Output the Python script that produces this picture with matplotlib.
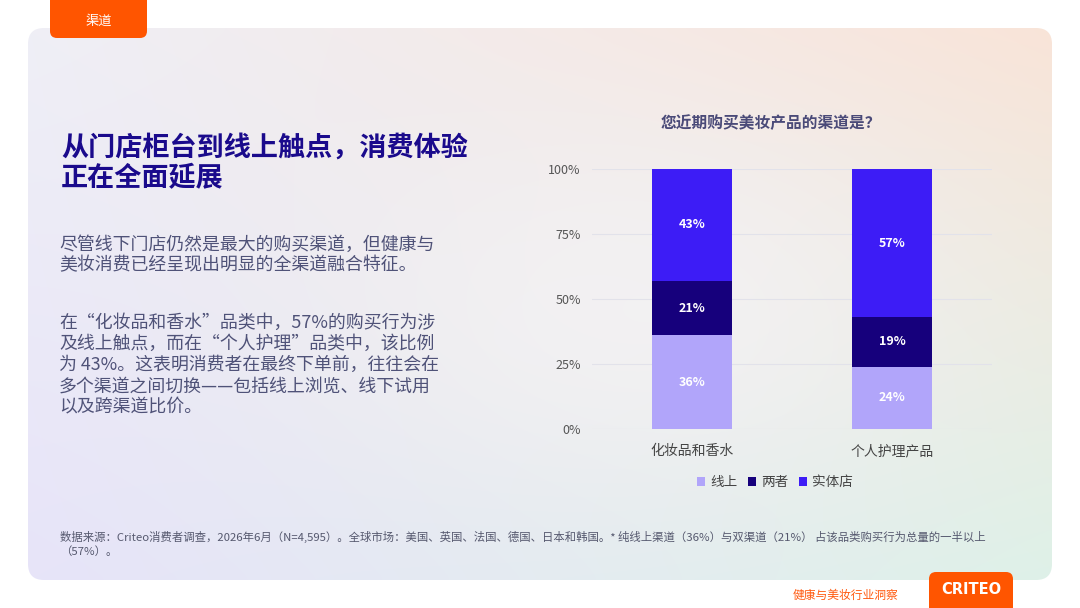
import numpy as np
import matplotlib
matplotlib.use("Agg")
import matplotlib.pyplot as plt
from matplotlib.patches import FancyBboxPatch, Patch

plt.rcParams['font.family'] = ['Noto Sans CJK SC', 'DejaVu Sans']
plt.rcParams['axes.unicode_minus'] = False

# 数据
categories = ['化妆品和香水', '个人护理产品']
series_names = ['线上', '两者', '实体店']
online = [36, 24]
both = [21, 19]
store = [43, 57]
series_colors = ['#b1a5fa', '#16007c', '#3d1cf6']
y_ticks = [0, 25, 50, 75, 100]
y_tick_labels = ['0%', '25%', '50%', '75%', '100%']

W, H = 1080, 608
fig = plt.figure(figsize=(W / 100, H / 100), dpi=100, facecolor='white')

# 背景画布（像素坐标）
bg = fig.add_axes([0, 0, 1, 1])
bg.set_xlim(0, W)
bg.set_ylim(H, 0)
bg.axis('off')

# 卡片渐变背景
def hex2rgb(h):
    h = h.lstrip('#')
    return np.array([int(h[i:i + 2], 16) / 255 for i in (0, 2, 4)])

tl, tr = hex2rgb('#efeff6'), hex2rgb('#f9e4d8')
bl, br = hex2rgb('#e7e4f9'), hex2rgb('#def1e8')
mid = hex2rgb('#f6f4f6')
gx = np.linspace(0, 1, 200)[None, :, None]
gy = np.linspace(0, 1, 120)[:, None, None]
img = (tl * (1 - gx) * (1 - gy) + tr * gx * (1 - gy)
       + bl * (1 - gx) * gy + br * gx * gy)
wmid = np.exp(-(((gx - 0.6) / 0.3) ** 2 + ((gy - 0.5) / 0.35) ** 2))
img = img * (1 - 0.7 * wmid) + mid * 0.7 * wmid
card = FancyBboxPatch((28, 28), 1024, 552, boxstyle='round,pad=0,rounding_size=16',
                      facecolor='none', edgecolor='none')
bg.add_patch(card)
im = bg.imshow(img, extent=(28, 1052, 580, 28), aspect='auto', interpolation='bicubic', zorder=0)
im.set_clip_path(card)

# 顶部橙色标签
tab = FancyBboxPatch((50, -20), 97, 58, boxstyle='round,pad=0,rounding_size=7',
                     facecolor='#ff5500', edgecolor='none', zorder=2)
bg.add_patch(tab)
bg.text(99, 21, '渠道', color='white', fontsize=9.5, ha='center', va='center', zorder=3)

# 左侧标题与正文
bg.text(61, 163, '从门店柜台到线上触点，消费体验\n正在全面延展', color='#1a0a8c',
        fontsize=19.5, fontweight='bold', ha='left', va='center', linespacing=1.15)
bg.text(59, 255, '尽管线下门店仍然是最大的购买渠道，但健康与\n美妆消费已经呈现出明显的全渠道融合特征。',
        color='#4f5278', fontsize=12.9, ha='left', va='center', linespacing=1.22)
bg.text(59, 365, '在“化妆品和香水”品类中，57%的购买行为涉\n及线上触点，而在“个人护理”品类中，该比例\n'
        '为 43%。这表明消费者在最终下单前，往往会在\n多个渠道之间切换——包括线上浏览、线下试用\n以及跨渠道比价。',
        color='#4f5278', fontsize=12.9, ha='left', va='center', linespacing=1.22)

# 脚注
bg.text(60, 544, '数据来源：Criteo消费者调查，2026年6月（N=4,595）。全球市场：美国、英国、法国、德国、日本和韩国。'
        '* 纯线上渠道（36%）与双渠道（21%） 占该品类购买行为总量的一半以上\n（57%）。',
        color='#55586e', fontsize=8.2, ha='left', va='center', linespacing=1.3)

# 右下角
bg.text(845, 595, '健康与美妆行业洞察', color='#ff5a10', fontsize=8.5, ha='center', va='center')
logo = FancyBboxPatch((929, 572), 84, 50, boxstyle='round,pad=0,rounding_size=7',
                      facecolor='#ff5500', edgecolor='none', zorder=2)
bg.add_patch(logo)
bg.text(971, 590, 'CRITEO', color='white', fontsize=10.5, fontweight='heavy',
        ha='center', va='center', zorder=3, family='DejaVu Sans')

# 图表标题
bg.text(771, 123, '您近期购买美妆产品的渠道是？', color='#4a4a78', fontsize=11.3,
        fontweight='bold', ha='center', va='center')

# 堆叠柱状图
ax = fig.add_axes([592 / W, (H - 429) / H, 400 / W, 260 / H])
ax.patch.set_alpha(0)
x = np.arange(len(categories))
bottom = np.zeros(len(categories))
for name, vals, col in zip(series_names, [online, both, store], series_colors):
    bars = ax.bar(x, vals, width=0.4, bottom=bottom, color=col, label=name, zorder=3)
    ax.bar_label(bars, labels=[f'{v}%' for v in vals], label_type='center',
                 color='white', fontsize=9, fontweight='bold')
    bottom += np.array(vals)

ax.set_xlim(-0.5, 1.5)
ax.set_ylim(0, 100)
ax.set_yticks(y_ticks)
ax.set_yticklabels(y_tick_labels, fontsize=9, color='#555555')
ax.set_xticks(x)
ax.set_xticklabels(categories, fontsize=10, color='#444444')
ax.tick_params(axis='both', length=0)
ax.tick_params(axis='y', pad=8)
ax.tick_params(axis='x', pad=11)
ax.grid(axis='y', color='#e2e2ea', linewidth=0.8, zorder=0)
for s in ax.spines.values():
    s.set_visible(False)

handles = [Patch(facecolor=c, edgecolor='none') for c in series_colors]
fig.legend(handles, series_names, loc='center', bbox_to_anchor=(775 / W, 1 - 482 / H),
           ncol=3, frameon=False, fontsize=9.8, handlelength=0.6, handleheight=0.6,
           handletextpad=0.35, columnspacing=0.8, labelcolor='#444444')

plt.savefig('out.png', dpi=100, facecolor='white')
